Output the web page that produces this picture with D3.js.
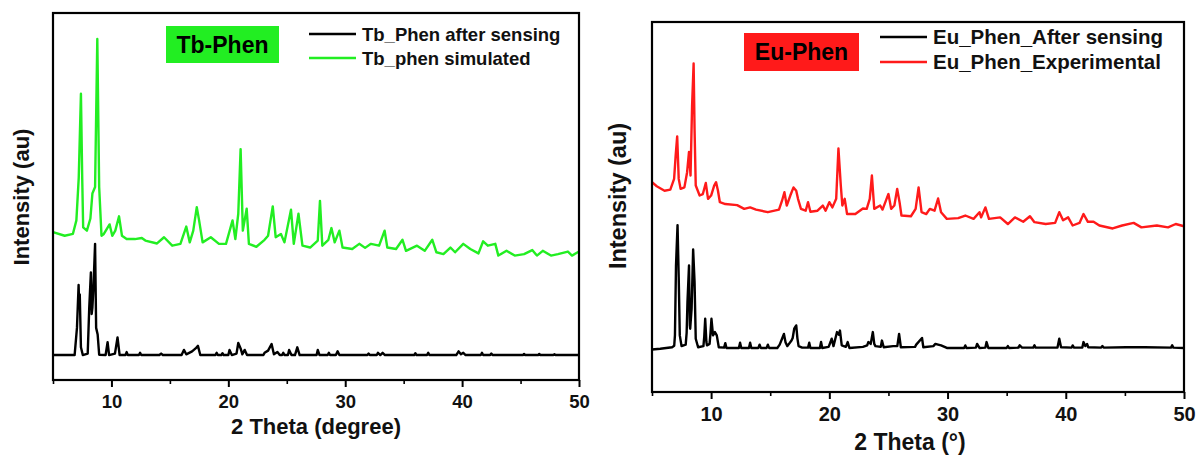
<!DOCTYPE html>
<html><head><meta charset="utf-8">
<script src="https://cdn.jsdelivr.net/npm/d3@7"></script>
<style>
html,body{margin:0;padding:0;background:#fff;}
svg{display:block;}
text{font-family:"Liberation Sans",Arial,sans-serif;}
</style></head>
<body>
<svg id="c" width="1198" height="455"></svg>
<script>
// ---------- data ----------
const xTicks = [10, 20, 30, 40, 50];
const xMinorTicks = [5, 15, 25, 35, 45];

// Tb-Phen panel (relative intensity, 0..100 of panel height)
const tbAfter = [[5,6.8],[6.85,6.8],[7.05,14.2],[7.19,25.9],[7.24,20],[7.29,23.3],[7.39,8.9],[7.55,6.8],[7.97,7.2],[8.1,19.7],[8.24,29.3],[8.31,18],[8.37,19.7],[8.46,25.2],[8.6,37.1],[8.69,14.2],[8.82,12.4],[8.95,6.9],[9.5,6.8],[9.67,10.3],[9.8,6.8],[10.3,7.2],[10.52,11.6],[10.7,6.8],[11.2,6.8],[11.3,7.6],[11.4,6.8],[12.35,6.8],[12.45,7.4],[12.55,6.8],[14.1,6.8],[14.25,7.2],[14.4,6.8],[16.0,6.8],[16.2,8.2],[16.4,7.0],[16.9,7.8],[17.2,8.6],[17.4,9.3],[17.6,6.8],[18.9,6.8],[19.0,7.4],[19.1,6.8],[19.4,6.8],[19.5,7.3],[19.6,6.8],[20.0,6.8],[20.1,8.2],[20.3,6.8],[20.7,7.2],[20.85,10.1],[21.05,8.6],[21.2,7.0],[21.4,8.2],[21.6,6.8],[23.0,6.8],[23.1,7.4],[23.4,8.0],[23.7,9.8],[23.9,7.0],[24.2,7.6],[24.4,6.8],[24.6,6.8],[24.7,7.4],[24.8,6.8],[25.1,6.8],[25.2,8.2],[25.4,6.8],[25.7,6.8],[25.9,8.9],[26.1,6.8],[27.55,6.8],[27.65,8.2],[27.8,6.8],[28.5,6.8],[28.6,7.4],[28.7,6.8],[29.2,6.8],[29.35,7.8],[29.5,6.8],[31.9,6.8],[32.0,7.2],[32.1,6.8],[32.7,6.8],[32.8,7.4],[33.0,6.8],[33.2,7.4],[33.4,6.8],[35.9,6.8],[36.0,7.3],[36.1,6.8],[37.0,6.8],[37.1,7.4],[37.2,6.8],[39.5,6.8],[39.7,7.8],[39.9,7.0],[40.1,7.4],[40.3,6.8],[41.6,6.8],[41.7,7.4],[41.8,6.8],[42.4,6.8],[42.5,7.2],[42.6,6.8],[45.2,6.8],[45.3,7.1],[45.4,6.8],[46.5,6.8],[46.6,7.1],[46.7,6.8],[47.8,6.8],[47.9,7.0],[48.0,6.8],[50,6.8]];
const tbSim = [[5.0,40.3],[6.0,39.3],[6.7,39.8],[7.0,43.5],[7.2,55],[7.39,78.0],[7.5,55],[7.58,41.6],[7.9,40.7],[8.2,44],[8.37,50.8],[8.6,52.6],[8.79,92.9],[8.95,52.6],[9.15,39.3],[9.35,39.8],[9.84,42.4],[10.07,39.3],[10.33,40.7],[10.65,44.6],[10.9,39.3],[11.3,38.4],[12.0,38.4],[12.6,38.7],[12.9,38.0],[13.9,37.2],[14.5,38.9],[15.2,36.6],[15.9,37.1],[16.4,41.8],[16.7,37.5],[17.0,40.7],[17.3,47.1],[17.5,43.5],[17.8,37.5],[18.5,38.9],[19.2,37.1],[19.8,37.1],[20.36,43.5],[20.6,38.4],[20.85,45.3],[21.05,62.9],[21.24,40.7],[21.57,46.7],[21.76,37.1],[22.4,36.3],[23.1,38.2],[23.4,39.3],[23.8,47.3],[24.05,38.9],[24.5,39.8],[24.8,37.5],[25.36,46.4],[25.6,37.1],[26.0,45.3],[26.34,36.6],[27.0,36.1],[27.65,38.0],[27.84,48.8],[28.04,36.6],[28.56,38.2],[28.82,41.4],[29.1,37.5],[29.5,40.7],[29.77,36.1],[30.6,35.7],[31.2,37.1],[31.7,36.0],[32.2,37.1],[32.9,36.6],[33.37,40.7],[33.6,36.1],[34.35,35.7],[34.9,38.2],[35.2,35.2],[36.14,36.6],[36.8,35.2],[37.45,38.2],[37.8,34.8],[38.4,34.3],[39.0,36.1],[39.4,34.8],[40.1,37.1],[40.7,35.7],[41.4,34.5],[41.8,37.8],[42.2,36.6],[42.84,37.1],[43.1,33.9],[43.8,35.2],[44.5,33.9],[45.3,34.3],[46.0,35.4],[46.4,33.9],[46.9,35.2],[47.6,33.9],[48.2,34.3],[49.05,35.0],[49.4,33.9],[50,35.0]];

// Eu-Phen panel
const euAfter = [[5.0,11.5],[5.7,11.7],[6.7,12.1],[6.88,12.5],[6.94,15.3],[7.03,34.2],[7.16,45.1],[7.26,31.0],[7.35,15.3],[7.5,12.4],[7.85,12.8],[7.93,16],[8.0,24.3],[8.13,34.2],[8.2,18],[8.23,17.1],[8.35,22.5],[8.48,38.5],[8.6,29.7],[8.7,14.4],[8.9,12.1],[9.35,12.4],[9.42,15],[9.5,19.8],[9.6,13.5],[9.65,12.6],[9.87,13.0],[9.95,16],[10.03,19.8],[10.16,15.3],[10.32,16.2],[10.48,15.3],[10.65,12.1],[11.1,12.0],[11.2,13.2],[11.3,11.9],[12.35,11.9],[12.45,13.3],[12.55,11.9],[13.2,11.9],[13.3,13.3],[13.4,11.9],[14.0,11.9],[14.1,12.8],[14.2,11.9],[14.7,11.9],[14.8,12.8],[14.9,11.9],[15.6,11.9],[15.8,12.8],[16.0,14.4],[16.16,15.7],[16.3,13.4],[16.45,12.4],[16.8,13.9],[16.9,14.6],[17.03,17.1],[17.2,18.0],[17.3,14.5],[17.4,12.4],[17.7,12.0],[18.2,12.0],[18.3,13.3],[18.4,11.9],[19.2,11.9],[19.3,13.5],[19.4,11.9],[19.94,12.2],[20.1,13.5],[20.2,14.4],[20.35,12.4],[20.65,16.2],[20.8,15.5],[20.9,16.6],[21.05,12.6],[21.4,12.2],[21.55,13.5],[21.7,11.9],[22.84,12.2],[23.2,12.6],[23.3,13.5],[23.5,13.0],[23.68,16.2],[23.8,13],[23.9,12.4],[24.35,12.2],[24.45,13.9],[24.6,12.1],[25.4,12.4],[25.75,12.4],[25.9,15.7],[26.05,12.1],[27.25,12.2],[27.35,12.8],[27.84,14.6],[27.95,12.1],[28.8,12.4],[28.97,13.0],[29.2,12.8],[29.45,12.6],[29.94,11.9],[31.4,11.9],[31.5,12.6],[31.6,11.9],[32.4,12.0],[32.5,13.0],[32.7,11.9],[33.2,12.0],[33.3,13.5],[33.45,11.9],[35.0,11.9],[35.1,12.4],[35.2,11.9],[36.0,12.0],[36.1,12.6],[36.3,12.0],[37.25,12.0],[37.35,12.6],[37.45,12.0],[39.3,12.0],[39.45,14.4],[39.6,12.1],[40.5,12.0],[40.58,12.6],[40.7,12.0],[41.4,12.0],[41.5,13.5],[41.65,12.4],[41.8,13.0],[41.9,12.1],[43.0,12.0],[43.1,12.4],[43.2,12.0],[45.1,12.1],[46.7,12.1],[48.9,12.0],[49.0,12.6],[49.1,12.0],[50,11.9]];
const euExp = [[5.0,56.7],[5.4,55.6],[6.06,54.4],[6.55,54.7],[6.87,57.6],[7.0,63.8],[7.13,69.1],[7.26,57.6],[7.42,54.9],[7.74,55.3],[7.97,59.4],[8.13,64.9],[8.26,58.5],[8.39,77.3],[8.52,88.8],[8.6,71.0],[8.7,55.8],[9.03,53.1],[9.3,53.5],[9.55,56.5],[9.74,52.2],[10.0,53.1],[10.26,55.8],[10.42,56.7],[10.58,54.4],[10.74,51.3],[11.2,50.8],[12.2,50.5],[12.8,49.5],[13.3,49.9],[13.8,49.3],[14.8,48.6],[15.74,49.3],[16.0,51.7],[16.2,54.0],[16.4,50.4],[16.7,53.1],[16.97,55.3],[17.2,54.4],[17.35,52.2],[17.6,49.5],[18.0,49.0],[18.2,51.3],[18.4,48.7],[19.0,49.0],[19.45,50.4],[19.68,49.0],[20.0,51.3],[20.26,49.9],[20.58,52.2],[20.77,65.8],[20.97,55.8],[21.1,50.4],[21.3,52.2],[21.5,48.1],[22.2,48.1],[22.84,49.6],[23.16,49.5],[23.42,52.2],[23.6,58.5],[23.8,49.5],[24.3,50.4],[24.5,49.3],[24.84,52.2],[25.0,53.5],[25.23,49.5],[25.5,50.4],[25.74,54.9],[25.94,51.3],[26.1,47.7],[26.9,47.5],[27.3,49.5],[27.55,55.3],[27.8,48.6],[28.2,48.1],[28.5,49.5],[28.9,49.0],[29.2,52.3],[29.45,48.6],[29.94,46.8],[30.9,47.0],[31.5,47.7],[32.2,46.8],[32.7,48.6],[32.84,47.2],[33.2,49.9],[33.5,46.8],[34.45,47.2],[35.1,45.4],[35.7,47.2],[36.4,46.0],[36.97,47.5],[37.35,45.9],[38.3,45.4],[39.1,45.7],[39.45,48.6],[39.77,46.4],[40.2,47.2],[40.58,45.0],[41.16,45.7],[41.5,48.1],[41.87,46.0],[42.35,46.0],[42.84,45.0],[43.97,44.2],[44.77,45.0],[45.74,45.7],[46.4,44.5],[47.7,45.0],[48.65,44.5],[49.3,45.4],[50,44.8]];

const panels = [
  {left:53, right:579, top:13, bottom:380,
   series:[{data:tbAfter, color:"#000000", name:"Tb_Phen after sensing"},
           {data:tbSim, color:"#22ee22", name:"Tb_phen simulated"}],
   tag:"Tb-Phen", tagColor:"#22ee22", tagBox:[166,26,113,37],
   legendX:309, legendY:[34,58], legendFont:18.5,
   xTitle:"2 Theta (degree)", xTitleX:316, xTitleY:434, xTitleFont:22,
   yTitleX:29, yTitleY:197, yTitleFont:22, tickFont:18.5, tickLabelY:408},
  {left:652, right:1184, top:22, bottom:392,
   series:[{data:euAfter, color:"#000000", name:"Eu_Phen_After sensing"},
           {data:euExp, color:"#ff1a1a", name:"Eu_Phen_Experimental"}],
   tag:"Eu-Phen", tagColor:"#ff1a1a", tagBox:[744,33,115,38],
   legendX:880, legendY:[37,62], legendFont:20.5,
   xTitle:"2 Theta (\u00b0)", xTitleX:910, xTitleY:450, xTitleFont:23,
   yTitleX:626, yTitleY:196, yTitleFont:23.5, tickFont:20, tickLabelY:421}
];

const svg = d3.select("#c");

panels.forEach(p => {
  const x = d3.scaleLinear().domain([5, 50]).range([p.left, p.right]);
  const y = d3.scaleLinear().domain([0, 100]).range([p.bottom, p.top]);
  const g = svg.append("g");

  // series
  const line = d3.line().x(d => x(d[0])).y(d => y(d[1]));
  p.series.slice().reverse().forEach(s => {
    g.append("path").datum(s.data).attr("d", line)
      .attr("fill", "none").attr("stroke", s.color)
      .attr("stroke-width", 2.4).attr("stroke-linejoin", "round");
  });

  // frame
  g.append("rect").attr("x", p.left).attr("y", p.top)
    .attr("width", p.right - p.left).attr("height", p.bottom - p.top)
    .attr("fill", "none").attr("stroke", "#000").attr("stroke-width", 2.2);

  // bottom axis
  const ax = d3.axisBottom(x).tickValues(xTicks).tickSize(7).tickSizeOuter(0).tickPadding(6);
  const axG = g.append("g").attr("transform", `translate(0,${p.bottom})`).call(ax);
  axG.select(".domain").remove();
  axG.selectAll(".tick line").attr("stroke", "#000").attr("stroke-width", 2);
  axG.selectAll(".tick text").attr("y", p.tickLabelY - p.bottom).attr("dy", null)
    .attr("font-size", p.tickFont).attr("font-weight", "bold").attr("fill", "#111")
    .style("font-family", "'Liberation Sans', Arial, sans-serif");
  const axm = d3.axisBottom(x).tickValues(xMinorTicks).tickSize(4).tickSizeOuter(0).tickFormat("");
  const axmG = g.append("g").attr("transform", `translate(0,${p.bottom})`).call(axm);
  axmG.select(".domain").remove();
  axmG.selectAll(".tick line").attr("stroke", "#000").attr("stroke-width", 1.6);

  // titles
  g.append("text").attr("x", p.xTitleX).attr("y", p.xTitleY).attr("text-anchor", "middle")
    .attr("font-size", p.xTitleFont).attr("font-weight", "bold").attr("fill", "#111").text(p.xTitle);
  g.append("text").attr("transform", `translate(${p.yTitleX},${p.yTitleY}) rotate(-90)`)
    .attr("text-anchor", "middle").attr("font-size", p.yTitleFont).attr("font-weight", "bold")
    .attr("fill", "#111").text("Intensity (au)");

  // tag box
  const [bx, by, bw, bh] = p.tagBox;
  g.append("rect").attr("x", bx).attr("y", by).attr("width", bw).attr("height", bh).attr("fill", p.tagColor);
  g.append("text").attr("x", bx + bw / 2).attr("y", by + bh / 2 + 8).attr("text-anchor", "middle")
    .attr("font-size", 23).attr("font-weight", "bold").attr("fill", "#000").text(p.tag);

  // legend
  p.series.forEach((s, i) => {
    const ly = p.legendY[i];
    g.append("line").attr("x1", p.legendX).attr("x2", p.legendX + 47)
      .attr("y1", ly).attr("y2", ly).attr("stroke", s.color).attr("stroke-width", 2.5);
    g.append("text").attr("x", p.legendX + 53).attr("y", ly + p.legendFont * 0.36)
      .attr("font-size", p.legendFont).attr("font-weight", "bold").attr("fill", "#111").text(s.name);
  });
});
</script>
</body></html>
